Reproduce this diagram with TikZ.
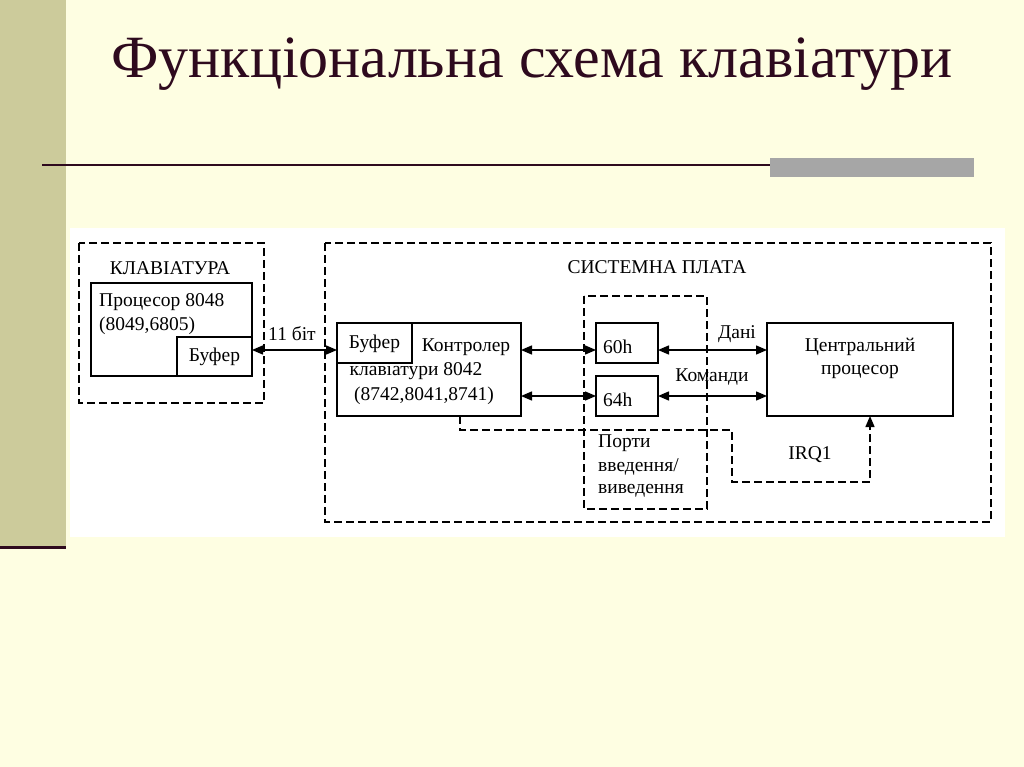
\documentclass[tikz,border=0pt]{standalone}
\usepackage{fontspec}
\setmainfont{Liberation Serif}
\usetikzlibrary{arrows.meta}
\definecolor{cream}{HTML}{FEFEE2}
\definecolor{olive}{HTML}{CCCB9B}
\definecolor{maroon}{HTML}{2E0A1E}
\begin{document}
\begin{tikzpicture}[x=1pt,y=-1pt,
  box/.style={draw,line width=1.4pt},
  dbox/.style={draw,line width=1.4pt,dash pattern=on 8pt off 4pt},
  txt/.style={font=\fontsize{19.5}{22}\selectfont,inner sep=0pt,anchor=west},
  ctxt/.style={font=\fontsize{19.5}{22}\selectfont,inner sep=0pt},
  dar/.style={line width=1.4pt,{Triangle[length=11pt,width=9pt]}-{Triangle[length=11pt,width=9pt]}}]
\useasboundingbox (0,0) rectangle (1024,767);
\fill[cream] (0,0) rectangle (1024,767);
\fill[olive] (0,0) rectangle (66,546);
\draw[maroon,line width=3pt] (0,547) -- (66,547);
\draw[maroon,line width=1.8pt] (42,165) -- (770,165);
\fill[gray!70] (770,158) rectangle (974,177);
\node[maroon,font=\fontsize{60}{64}\selectfont,inner sep=0pt] (title) at (532,64) {Функціональна схема клавіатури};
\fill[white] (70,228) rectangle (1005,537);
% keyboard
\draw[dbox] (79,243) rectangle (264,403);
\node[ctxt] (kl) at (170,268) {КЛАВІАТУРА};
\draw[box] (91,283) rectangle (252,376);
\node[txt] (p1) at (99,302) {Процесор 8048};
\node[txt] (p2) at (99,326) {(8049,6805)};
\draw[box] (177,337) rectangle (252,376);
\node[ctxt] (kbuf) at (214.5,356.5) {Буфер};
\coordinate (kbufE) at (252,350);
% system
\draw[dbox] (325,243) rectangle (991,522);
\node[ctxt] (sp) at (657,267) {СИСТЕМНА ПЛАТА};
\draw[dbox] (584,296) rectangle (707,509);
\draw[box] (337,323) rectangle (521,416);
\draw[box] (337,323) rectangle (412,363);
\node[ctxt] (cbuf) at (374.5,344) {Буфер};
\node[ctxt] (c1) at (466,347) {Контролер};
\node[ctxt] (c2) at (416,371) {клавіатури 8042};
\node[ctxt] (c3) at (424,396) {(8742,8041,8741)};
\coordinate (ctrlW) at (337,350);
\coordinate (ctrlE1) at (521,350);
\coordinate (ctrlE2) at (521,396);
\coordinate (ctrlS) at (460,416);
\draw[box] (596,323) rectangle (658,363);
\node[txt] (p60) at (603,347) {60h};
\draw[box] (596,376) rectangle (658,416);
\node[txt] (p64) at (603,400) {64h};
\coordinate (p60W) at (596,350); \coordinate (p60E) at (658,350);
\coordinate (p64W) at (596,396); \coordinate (p64E) at (658,396);
\draw[box] (767,323) rectangle (953,416);
\node[ctxt] (cp1) at (860,347) {Центральний};
\node[ctxt] (cp2) at (860,372) {процесор};
\coordinate (cpuW1) at (767,350); \coordinate (cpuW2) at (767,396);
\coordinate (cpuS) at (870,416);
\node[txt] (pt) at (598,443) {Порти};
\node[txt] (pt2) at (598,467) {введення/};
\node[txt] (pt3) at (598,491) {виведення};
% arrows
\draw[dar] (kbufE) -- (ctrlW);
\node[ctxt] (bit) at (292,334) {11 біт};
\draw[dar] (ctrlE1) -- (p60W);
\draw[dar] (ctrlE2) -- (p64W);
\draw[dar] (p60E) -- (cpuW1);
\draw[dar] (p64E) -- (cpuW2);
\node[ctxt] (dani) at (737,334) {Дані};
\node[ctxt] (kom) at (712,377) {Команди};
\coordinate (i1) at (460,430);
\coordinate (i2) at (732,430);
\coordinate (i3) at (732,482);
\coordinate (i4) at (870,482);
\draw[dbox,-{Triangle[length=11pt,width=9pt]}] (ctrlS) -- (i1) -- (i2) -- (i3) -- (i4) -- (cpuS);
\node[ctxt] (irq) at (810,455) {IRQ1};
\end{tikzpicture}
\end{document}
